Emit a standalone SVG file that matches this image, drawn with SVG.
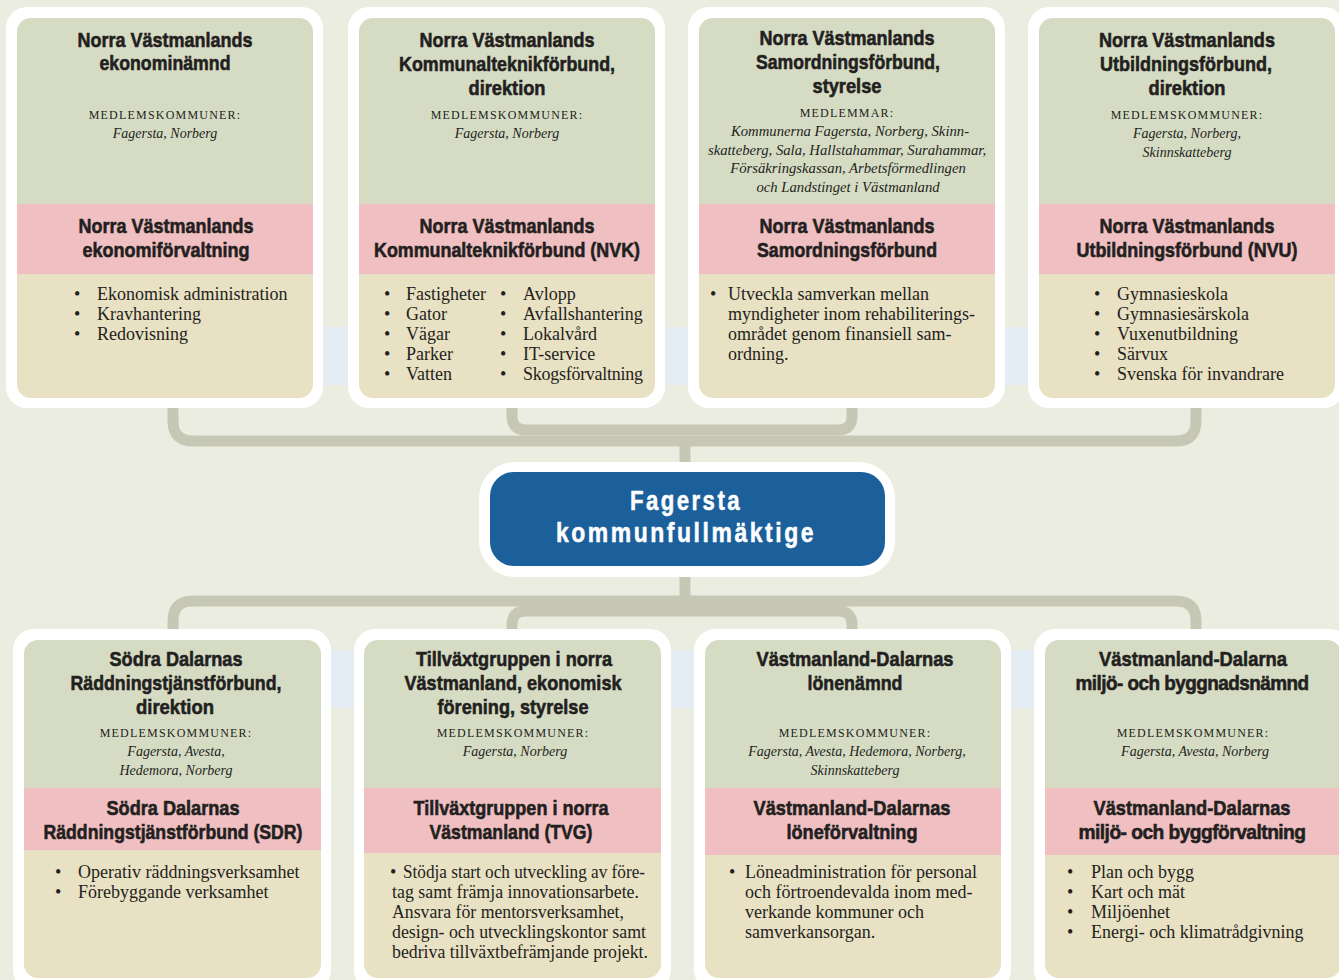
<svg xmlns="http://www.w3.org/2000/svg" width="1339" height="980" viewBox="0 0 1339 980">
<style>
.t{font-family:"Liberation Sans","Arial",sans-serif;font-weight:bold;font-size:21px;fill:#231f20;stroke:#231f20;stroke-width:0.6px;text-anchor:middle}
.tn{letter-spacing:-0.6px}
.sc{font-family:"Liberation Serif",serif;font-size:12px;letter-spacing:1.2px;fill:#231f20;text-anchor:middle}
.it{font-family:"Liberation Serif",serif;font-style:italic;font-size:14px;fill:#231f20;text-anchor:middle}
.it2{font-family:"Liberation Serif",serif;font-style:italic;font-size:14.7px;fill:#231f20;text-anchor:middle}
.b{font-family:"Liberation Serif",serif;font-size:18px;fill:#231f20}
.outer{fill:#ffffff}
.g{fill:#d6dcc4}
.p{fill:#efbfc1}
.y{fill:#e9e1c3}
.conn{fill:none;stroke:#c6c7b5;stroke-width:11}
.ctr{font-family:"Liberation Sans","Arial",sans-serif;font-weight:bold;font-size:27px;fill:#ffffff;stroke:#ffffff;stroke-width:0.5px;text-anchor:middle;letter-spacing:3px}
</style>
<defs>
<clipPath id="c1"><rect x="17" y="18" width="296" height="380" rx="14"/></clipPath>
<clipPath id="c2"><rect x="359" y="18" width="296" height="380" rx="14"/></clipPath>
<clipPath id="c3"><rect x="699" y="18" width="296" height="380" rx="14"/></clipPath>
<clipPath id="c4"><rect x="1039" y="18" width="296" height="380" rx="14"/></clipPath>
<clipPath id="c5"><rect x="24" y="640" width="297" height="338" rx="14"/></clipPath>
<clipPath id="c6"><rect x="364" y="640" width="297" height="338" rx="14"/></clipPath>
<clipPath id="c7"><rect x="705" y="640" width="296" height="338" rx="14"/></clipPath>
<clipPath id="c8"><rect x="1045" y="640" width="296" height="338" rx="14"/></clipPath>
</defs>
<rect x="0" y="0" width="1339" height="980" fill="#ecede1"/>
<rect x="300" y="327" width="750" height="58" fill="#e4ecf4"/>
<rect x="320" y="650" width="730" height="58" fill="#e4ecf4"/>

<g id="connectors">
<path class="conn" d="M173,408 V421 Q173,441 193,441 H1176 Q1196,441 1196,421 V408"/>
<path class="conn" d="M512,408 V416 Q512,430 526,430 H838 Q852,430 852,416 V408"/>
<line class="conn" x1="685" y1="441" x2="685" y2="464"/>
<line class="conn" x1="685" y1="575" x2="685" y2="601"/>
<path class="conn" d="M173,630 V621 Q173,601 193,601 H1176 Q1196,601 1196,621 V630"/>
<path class="conn" d="M512,630 V625 Q512,611 526,611 H838 Q852,611 852,625 V630"/>
</g>

<g id="n1">
<rect class="outer" x="6" y="7" width="317" height="401" rx="21"/>
<g clip-path="url(#c1)"><rect class="g" x="17" y="18" width="296" height="186"/><rect class="p" x="17" y="204" width="296" height="70"/><rect class="y" x="17" y="274" width="296" height="124"/></g>
<text class="t" x="165" y="47" textLength="175" lengthAdjust="spacingAndGlyphs">Norra Västmanlands</text>
<text class="t" x="165" y="70" textLength="131" lengthAdjust="spacingAndGlyphs">ekonominämnd</text>
<text class="sc" x="165" y="119">MEDLEMSKOMMUNER:</text>
<text class="it" x="165" y="138">Fagersta, Norberg</text>
<text class="t" x="166" y="233" textLength="175" lengthAdjust="spacingAndGlyphs">Norra Västmanlands</text>
<text class="t" x="166" y="257" textLength="167" lengthAdjust="spacingAndGlyphs">ekonomiförvaltning</text>
<g class="b"><text x="74" y="300">•</text><text x="74" y="320">•</text><text x="74" y="340">•</text>
<text x="97" y="300">Ekonomisk administration</text><text x="97" y="320">Kravhantering</text><text x="97" y="340">Redovisning</text></g>
</g>

<g id="n2">
<rect class="outer" x="348" y="7" width="317" height="401" rx="21"/>
<g clip-path="url(#c2)"><rect class="g" x="359" y="18" width="296" height="186"/><rect class="p" x="359" y="204" width="296" height="70"/><rect class="y" x="359" y="274" width="296" height="124"/></g>
<text class="t" x="507" y="47" textLength="175" lengthAdjust="spacingAndGlyphs">Norra Västmanlands</text>
<text class="t" x="507" y="71" textLength="216" lengthAdjust="spacingAndGlyphs">Kommunalteknikförbund,</text>
<text class="t" x="507" y="95" textLength="77" lengthAdjust="spacingAndGlyphs">direktion</text>
<text class="sc" x="507" y="119">MEDLEMSKOMMUNER:</text>
<text class="it" x="507" y="138">Fagersta, Norberg</text>
<text class="t" x="507" y="233" textLength="175" lengthAdjust="spacingAndGlyphs">Norra Västmanlands</text>
<text class="t" x="507" y="257" textLength="266" lengthAdjust="spacingAndGlyphs">Kommunalteknikförbund (NVK)</text>
<g class="b">
<text x="384" y="300">•</text><text x="384" y="320">•</text><text x="384" y="340">•</text><text x="384" y="360">•</text><text x="384" y="380">•</text>
<text x="406" y="300">Fastigheter</text><text x="406" y="320">Gator</text><text x="406" y="340">Vägar</text><text x="406" y="360">Parker</text><text x="406" y="380">Vatten</text>
<text x="500" y="300">•</text><text x="500" y="320">•</text><text x="500" y="340">•</text><text x="500" y="360">•</text><text x="500" y="380">•</text>
<text x="523" y="300">Avlopp</text><text x="523" y="320">Avfallshantering</text><text x="523" y="340">Lokalvård</text><text x="523" y="360">IT-service</text><text x="523" y="380" textLength="120" lengthAdjust="spacing">Skogsförvaltning</text>
</g>
</g>

<g id="n3">
<rect class="outer" x="688" y="7" width="317" height="401" rx="21"/>
<g clip-path="url(#c3)"><rect class="g" x="699" y="18" width="296" height="186"/><rect class="p" x="699" y="204" width="296" height="70"/><rect class="y" x="699" y="274" width="296" height="124"/></g>
<text class="t" x="847" y="45" textLength="175" lengthAdjust="spacingAndGlyphs">Norra Västmanlands</text>
<text class="t" x="848" y="69" textLength="184" lengthAdjust="spacingAndGlyphs">Samordningsförbund,</text>
<text class="t" x="847" y="93" textLength="69" lengthAdjust="spacingAndGlyphs">styrelse</text>
<text class="sc" x="847" y="117">MEDLEMMAR:</text>
<text class="it2" x="850" y="136">Kommunerna Fagersta, Norberg, Skinn-</text>
<text class="it2" x="847" y="155">skatteberg, Sala, Hallstahammar, Surahammar,</text>
<text class="it2" x="848" y="173">Försäkringskassan, Arbetsförmedlingen</text>
<text class="it2" x="848" y="192">och Landstinget i Västmanland</text>
<text class="t" x="847" y="233" textLength="175" lengthAdjust="spacingAndGlyphs">Norra Västmanlands</text>
<text class="t" x="847" y="257" textLength="180" lengthAdjust="spacingAndGlyphs">Samordningsförbund</text>
<g class="b"><text x="710" y="300">•</text>
<text x="728" y="300">Utveckla samverkan mellan</text>
<text x="728" y="320">myndigheter inom rehabiliterings-</text>
<text x="728" y="340">området genom finansiell sam-</text>
<text x="728" y="360">ordning.</text></g>
</g>

<g id="n4">
<rect class="outer" x="1028" y="7" width="317" height="401" rx="21"/>
<g clip-path="url(#c4)"><rect class="g" x="1039" y="18" width="296" height="186"/><rect class="p" x="1039" y="204" width="296" height="70"/><rect class="y" x="1039" y="274" width="296" height="124"/></g>
<text class="t" x="1187" y="47" textLength="176" lengthAdjust="spacingAndGlyphs">Norra Västmanlands</text>
<text class="t" x="1186" y="71" textLength="172" lengthAdjust="spacingAndGlyphs">Utbildningsförbund,</text>
<text class="t" x="1187" y="95" textLength="77" lengthAdjust="spacingAndGlyphs">direktion</text>
<text class="sc" x="1187" y="119">MEDLEMSKOMMUNER:</text>
<text class="it" x="1187" y="138">Fagersta, Norberg,</text>
<text class="it" x="1187" y="157">Skinnskatteberg</text>
<text class="t" x="1187" y="233" textLength="175" lengthAdjust="spacingAndGlyphs">Norra Västmanlands</text>
<text class="t" x="1187" y="257" textLength="221" lengthAdjust="spacingAndGlyphs">Utbildningsförbund (NVU)</text>
<g class="b">
<text x="1094" y="300">•</text><text x="1094" y="320">•</text><text x="1094" y="340">•</text><text x="1094" y="360">•</text><text x="1094" y="380">•</text>
<text x="1117" y="300">Gymnasieskola</text><text x="1117" y="320">Gymnasiesärskola</text><text x="1117" y="340">Vuxenutbildning</text><text x="1117" y="360">Särvux</text><text x="1117" y="380">Svenska för invandrare</text>
</g>
</g>

<g id="center">
<rect x="479" y="462" width="416" height="115" rx="36" fill="#ffffff"/>
<rect x="490" y="472" width="395" height="94" rx="24" fill="#1b5f9b"/>
<text class="ctr" x="686" y="510" textLength="112" lengthAdjust="spacingAndGlyphs">Fagersta</text>
<text class="ctr" x="686" y="542" textLength="260" lengthAdjust="spacingAndGlyphs">kommunfullmäktige</text>
</g>

<g id="n5">
<rect class="outer" x="13" y="629" width="318" height="362" rx="21"/>
<g clip-path="url(#c5)"><rect class="g" x="24" y="640" width="297" height="148"/><rect class="p" x="24" y="788" width="297" height="62"/><rect class="y" x="24" y="850" width="297" height="128"/></g>
<text class="t" x="176" y="666" textLength="133" lengthAdjust="spacingAndGlyphs">Södra Dalarnas</text>
<text class="t" x="176" y="690" textLength="211" lengthAdjust="spacingAndGlyphs">Räddningstjänstförbund,</text>
<text class="t" x="175" y="714" textLength="78" lengthAdjust="spacingAndGlyphs">direktion</text>
<text class="sc" x="176" y="737">MEDLEMSKOMMUNER:</text>
<text class="it" x="176" y="756">Fagersta, Avesta,</text>
<text class="it" x="176" y="775">Hedemora, Norberg</text>
<text class="t" x="173" y="815" textLength="133" lengthAdjust="spacingAndGlyphs">Södra Dalarnas</text>
<text class="t" x="173" y="839" textLength="259" lengthAdjust="spacingAndGlyphs">Räddningstjänstförbund (SDR)</text>
<g class="b"><text x="55" y="878">•</text><text x="55" y="898">•</text>
<text x="78" y="878">Operativ räddningsverksamhet</text><text x="78" y="898">Förebyggande verksamhet</text></g>
</g>

<g id="n6">
<rect class="outer" x="354" y="629" width="317" height="362" rx="21"/>
<g clip-path="url(#c6)"><rect class="g" x="364" y="640" width="297" height="148"/><rect class="p" x="364" y="788" width="297" height="65"/><rect class="y" x="364" y="853" width="297" height="125"/></g>
<text class="t" x="514" y="666" textLength="196" lengthAdjust="spacingAndGlyphs">Tillväxtgruppen i norra</text>
<text class="t" x="513" y="690" textLength="217" lengthAdjust="spacingAndGlyphs">Västmanland, ekonomisk</text>
<text class="t" x="513" y="714" textLength="151" lengthAdjust="spacingAndGlyphs">förening, styrelse</text>
<text class="sc" x="513" y="737">MEDLEMSKOMMUNER:</text>
<text class="it" x="515" y="756">Fagersta, Norberg</text>
<text class="t" x="511" y="815" textLength="195" lengthAdjust="spacingAndGlyphs">Tillväxtgruppen i norra</text>
<text class="t" x="511" y="839" textLength="163" lengthAdjust="spacingAndGlyphs">Västmanland (TVG)</text>
<g class="b"><text x="390" y="878">•</text>
<text x="403" y="878" textLength="242" lengthAdjust="spacingAndGlyphs">Stödja start och utveckling av före-</text>
<text x="392" y="898" textLength="247" lengthAdjust="spacingAndGlyphs">tag samt främja innovationsarbete.</text>
<text x="392" y="918" textLength="232" lengthAdjust="spacingAndGlyphs">Ansvara för mentorsverksamhet,</text>
<text x="392" y="938" textLength="254" lengthAdjust="spacingAndGlyphs">design- och utvecklingskontor samt</text>
<text x="392" y="958" textLength="256" lengthAdjust="spacingAndGlyphs">bedriva tillväxtbefrämjande projekt.</text></g>
</g>

<g id="n7">
<rect class="outer" x="694" y="629" width="317" height="362" rx="21"/>
<g clip-path="url(#c7)"><rect class="g" x="705" y="640" width="296" height="148"/><rect class="p" x="705" y="788" width="296" height="67"/><rect class="y" x="705" y="855" width="296" height="123"/></g>
<text class="t" x="855" y="666" textLength="197" lengthAdjust="spacingAndGlyphs">Västmanland-Dalarnas</text>
<text class="t" x="855" y="690" textLength="95" lengthAdjust="spacingAndGlyphs">lönenämnd</text>
<text class="sc" x="855" y="737">MEDLEMSKOMMUNER:</text>
<text class="it" x="857" y="756">Fagersta, Avesta, Hedemora, Norberg,</text>
<text class="it" x="855" y="775">Skinnskatteberg</text>
<text class="t" x="852" y="815" textLength="197" lengthAdjust="spacingAndGlyphs">Västmanland-Dalarnas</text>
<text class="t" x="852" y="839" textLength="131" lengthAdjust="spacingAndGlyphs">löneförvaltning</text>
<g class="b"><text x="729" y="878">•</text>
<text x="745" y="878">Löneadministration för personal</text>
<text x="745" y="898">och förtroendevalda inom med-</text>
<text x="745" y="918">verkande kommuner och</text>
<text x="745" y="938">samverkansorgan.</text></g>
</g>

<g id="n8">
<rect class="outer" x="1034" y="629" width="317" height="362" rx="21"/>
<g clip-path="url(#c8)"><rect class="g" x="1045" y="640" width="296" height="148"/><rect class="p" x="1045" y="788" width="296" height="67"/><rect class="y" x="1045" y="855" width="296" height="123"/></g>
<text class="t" x="1193" y="666" textLength="188" lengthAdjust="spacingAndGlyphs">Västmanland-Dalarna</text>
<text class="t tn" x="1192" y="690" textLength="233" lengthAdjust="spacingAndGlyphs">miljö- och byggnadsnämnd</text>
<text class="sc" x="1193" y="737">MEDLEMSKOMMUNER:</text>
<text class="it" x="1195" y="756">Fagersta, Avesta, Norberg</text>
<text class="t" x="1192" y="815" textLength="197" lengthAdjust="spacingAndGlyphs">Västmanland-Dalarnas</text>
<text class="t tn" x="1192" y="839" textLength="227" lengthAdjust="spacingAndGlyphs">miljö- och byggförvaltning</text>
<g class="b"><text x="1067" y="878">•</text><text x="1067" y="898">•</text><text x="1067" y="918">•</text><text x="1067" y="938">•</text>
<text x="1091" y="878">Plan och bygg</text><text x="1091" y="898">Kart och mät</text><text x="1091" y="918">Miljöenhet</text><text x="1091" y="938">Energi- och klimatrådgivning</text></g>
</g>
</svg>
